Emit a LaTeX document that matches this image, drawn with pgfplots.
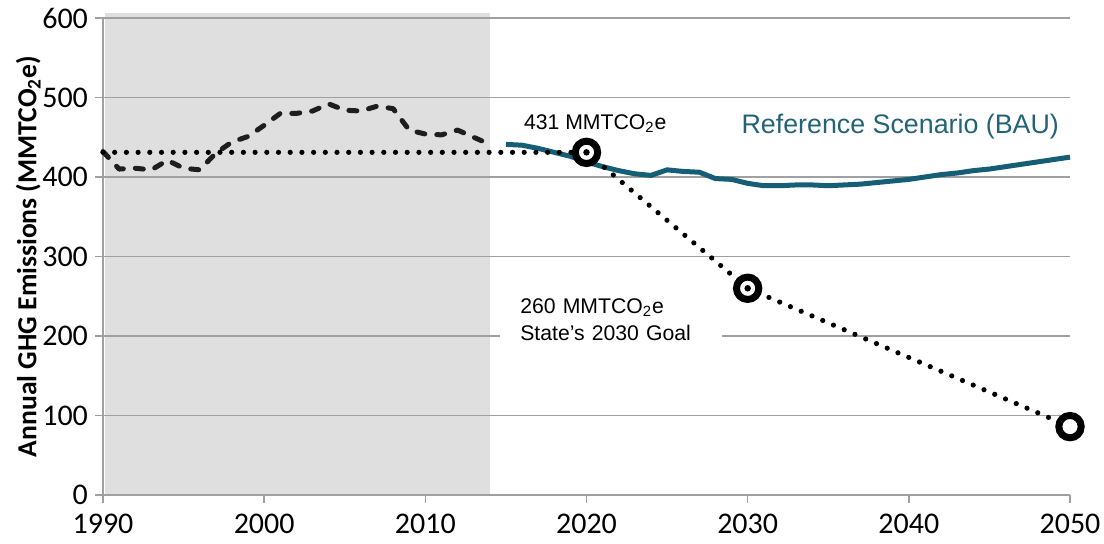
\documentclass[border=0pt]{standalone}
\usepackage{fontspec}
\setmainfont{Carlito}
\newfontfamily\arial{Liberation Sans}
\usepackage{pgfplots}
\pgfplotsset{compat=1.18}
\definecolor{bau}{RGB}{22,94,117}
\definecolor{baut}{RGB}{36,98,120}
\definecolor{shade}{RGB}{223,223,223}
\definecolor{gridc}{RGB}{160,160,160}
\definecolor{histc}{RGB}{30,30,30}
\begin{document}
\begin{tikzpicture}
\begin{axis}[
  set layers=standard,
  scale only axis,
  width=483.5pt, height=238.5pt,
  xmin=1990, xmax=2050, ymin=0, ymax=600,
  xtick={1990,2000,...,2050},
  ytick={0,100,...,600},
  ymajorgrids,
  grid style={draw=gridc, line width=0.8pt},
  axis x line*=bottom, axis y line*=left,
  axis line style={-, draw=gridc, line width=0.8pt},
  tick align=outside,
  major tick length=4pt,
  tick style={draw=gridc, line width=0.8pt},
  /pgf/number format/assume math mode=true,
  /pgf/number format/1000 sep={},
  tick label style={font=\fontsize{15}{18}\selectfont, text=black},
  xticklabel style={yshift=-2pt},
  ylabel={\textbf{Annual GHG Emissions (MMTCO\textsubscript{2}e)}},
  ylabel style={font=\fontsize{13.8}{16}\selectfont, yshift=-6pt},
  clip=false,
]
% shaded historical region
\addplot[draw=none, fill=shade, on layer=axis background] coordinates {(1990.15,0) (2014,0) (2014,606) (1990.15,606)} -- cycle;
% BAU
\addplot[bau, line width=2.5pt, line join=round] coordinates {
(2015,441) (2016,440) (2017,436) (2018,431) (2019,426) (2020,419) (2021,413) (2022,408) (2023,404) (2024,402) (2025,409) (2026,407) (2027,406) (2028,398) (2029,397) (2030,392) (2031,389) (2032,389) (2033,390) (2034,390) (2035,389) (2036,390) (2037,391) (2038,393) (2039,395) (2040,397) (2041,400) (2042,403) (2043,405) (2044,408) (2045,410) (2046,413) (2047,416) (2048,419) (2049,422) (2050,425)};
% historical
\addplot[histc, line width=2.5pt, line cap=round, line join=round, dash pattern=on 4pt off 6pt] coordinates {
(1990,432) (1991,410) (1992,411) (1993,409) (1994,421) (1995,411) (1996,409) (1997,430) (1998,444) (1999,451) (2000,465) (2001,480) (2002,480) (2003,483) (2004,492) (2005,484) (2006,483) (2007,489) (2008,486) (2009,459) (2010,454) (2011,453) (2012,459) (2013,450) (2014,441)};
% 1990 level
\addplot[black, line width=2.6pt, line cap=round, dash pattern=on 0pt off 5.85pt] coordinates {(1990,431) (2020,431)};
% goal path
\addplot[black, line width=2.6pt, line cap=round, dash pattern=on 0pt off 5.85pt] coordinates {(2020,431) (2030,260) (2050,86)};
% goal markers
\addplot[only marks, mark=*, mark size=5.6pt, mark options={draw=black, fill=white, line width=3.5pt}] coordinates {(2020,431) (2030,260) (2050,86)};
\addplot[only marks, mark=*, mark size=1.4pt, mark options={draw=black, fill=black}] coordinates {(2020,431) (2030,260)};
% annotations
\node[anchor=west, inner sep=0pt, font=\arial\fontsize{10.6}{12}\selectfont] at (axis cs:2016.1,467) {431 MMTCO\textsubscript{2}e};
\node[anchor=west, inner sep=0pt, text=baut, font=\arial\fontsize{13.4}{15}\selectfont] at (axis cs:2029.6,463) {Reference Scenario (BAU)};
\node[anchor=west, fill=white, inner xsep=10pt, inner ysep=3pt, text width=91pt, align=left, font=\arial\fontsize{10.6}{13.5}\selectfont] at (axis cs:2014.63,221) {260 MMTCO\textsubscript{2}e\\State’s 2030 Goal};
\end{axis}
\pgfresetboundingbox
\path (current axis.south west) ++(-51.5pt,-24.5pt) rectangle ++(552pt,272pt);
\end{tikzpicture}
\end{document}
